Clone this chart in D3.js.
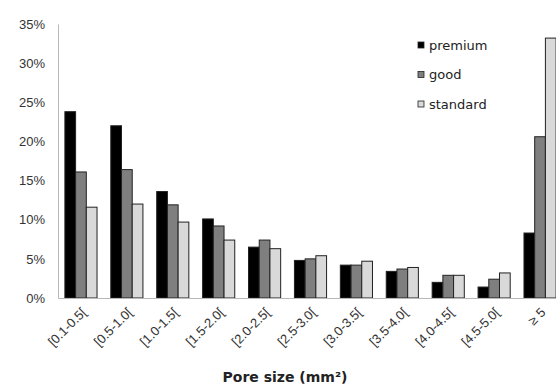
<!DOCTYPE html>
<html>
<head>
<meta charset="utf-8">
<script src="https://cdn.jsdelivr.net/npm/d3@7/dist/d3.min.js"></script>
<style>
  html, body { margin: 0; padding: 0; background: #fff; }
  svg { display: block; font-family: "DejaVu Sans", "Liberation Sans", Arial, sans-serif; }
</style>
</head>
<body>
<svg id="chart" width="556" height="385"></svg>
<script>
// Pore size distribution by quality grade (% of pores per size class)
const categories = ["[0.1-0.5[", "[0.5-1.0[", "[1.0-1.5[", "[1.5-2.0[", "[2.0-2.5[",
                    "[2.5-3.0[", "[3.0-3.5[", "[3.5-4.0[", "[4.0-4.5[", "[4.5-5.0[", "≥ 5"];
const seriesNames = ["premium", "good", "standard"];
const premium  = [23.8, 22.0, 13.6, 10.1, 6.5, 4.8, 4.2, 3.4, 2.0, 1.4, 8.3];
const good     = [16.1, 16.4, 11.9,  9.2, 7.4, 5.0, 4.2, 3.7, 2.9, 2.4, 20.6];
const standard = [11.6, 12.0,  9.7,  7.4, 6.3, 5.4, 4.7, 3.9, 2.9, 3.2, 33.2];
const yTicks = [0, 5, 10, 15, 20, 25, 30, 35];
const colors = ["#000000", "#7f7f7f", "#d9d9d9"];

const values = [premium, good, standard];
const svg = d3.select("#chart");

const x0 = d3.scaleBand().domain(categories).range([58, 563]).paddingInner(0.3).paddingOuter(0.15);
const x1 = d3.scaleBand().domain(seriesNames).range([0, x0.bandwidth()]);
const y = d3.scaleLinear().domain([0, 35]).range([298, 24]);

// y axis
const yAxis = svg.append("g")
  .attr("transform", "translate(58,0)")
  .call(d3.axisLeft(y).tickValues(yTicks).tickSize(0).tickPadding(13).tickFormat(d => d + "%"));
yAxis.select(".domain").attr("stroke", "#b8b8b8");
yAxis.selectAll("text").attr("font-size", 13).attr("fill", "#333");

// bars
const groups = svg.append("g").selectAll("g")
  .data(categories)
  .join("g")
  .attr("transform", d => `translate(${x0(d)},0)`);

groups.selectAll("rect")
  .data((d, i) => seriesNames.map((s, j) => ({ s, v: values[j][i], c: colors[j] })))
  .join("rect")
  .attr("x", d => x1(d.s))
  .attr("y", d => y(d.v))
  .attr("width", x1.bandwidth())
  .attr("height", d => y(0) - y(d.v))
  .attr("fill", d => d.c)
  .attr("stroke", "#222")
  .attr("stroke-width", 1);

// x axis with slanted category labels
const xAxis = svg.append("g")
  .attr("transform", "translate(0,298)")
  .call(d3.axisBottom(x0).tickSize(0));
xAxis.select(".domain").attr("stroke", "#b8b8b8");
xAxis.selectAll("text")
  .attr("font-size", 13)
  .attr("fill", "#333")
  .attr("text-anchor", "end")
  .attr("x", 0)
  .attr("y", 0)
  .attr("dy", "0.35em")
  .attr("transform", "translate(3,12) rotate(-45)");

// axis title
svg.append("text")
  .attr("x", 285)
  .attr("y", 382)
  .attr("text-anchor", "middle")
  .attr("font-size", 14)
  .attr("font-weight", "bold")
  .attr("fill", "#222")
  .text("Pore size (mm²)");

// legend
const legend = svg.append("g").attr("transform", "translate(418,45)");
seriesNames.forEach((s, i) => {
  const g = legend.append("g").attr("transform", `translate(0,${i * 29.5})`);
  g.append("rect").attr("x", 0).attr("y", -3).attr("width", 6).attr("height", 6)
    .attr("fill", colors[i]).attr("stroke", "#222").attr("stroke-width", 0.8);
  g.append("text").attr("x", 11).attr("y", 0).attr("dy", "0.35em")
    .attr("font-size", 13).attr("fill", "#222").text(s);
});
</script>
</body>
</html>
